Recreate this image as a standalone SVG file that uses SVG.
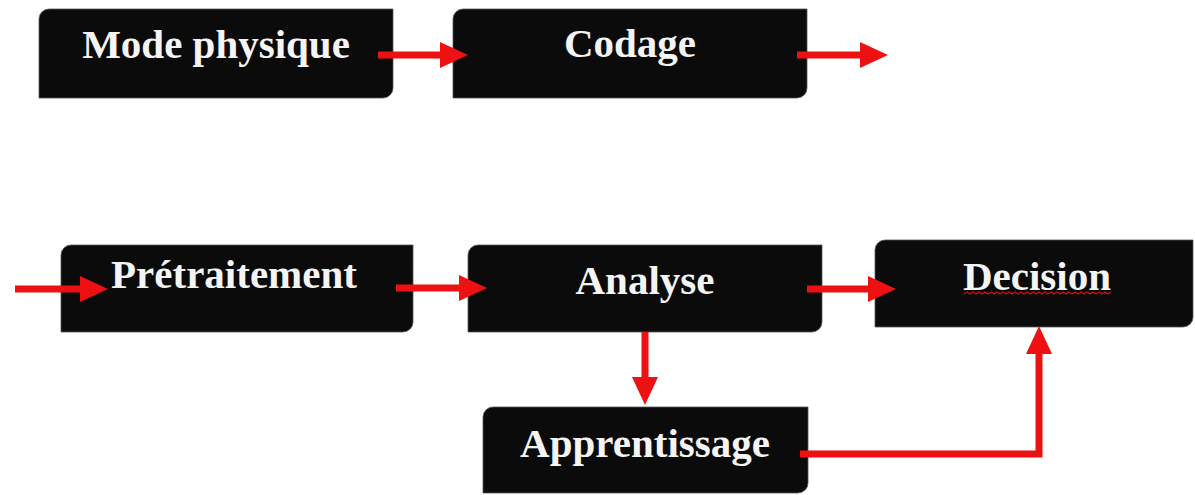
<svg xmlns="http://www.w3.org/2000/svg" width="1195" height="495" viewBox="0 0 1195 495">
<style>
.box{fill:#0b0b0b;stroke:#555;stroke-width:0.8}
.lbl{font-family:"Liberation Serif","Times New Roman",serif;font-weight:bold;font-size:41px;fill:#f4f4f4;text-anchor:middle}
.conn{fill:none;stroke:#ee1111;stroke-width:7;stroke-linejoin:miter}
</style>
<defs>
<marker id="ah" markerUnits="userSpaceOnUse" markerWidth="30" markerHeight="28" refX="8" refY="13" orient="auto" overflow="visible">
<path d="M0,0 L28,13 L0,26 Z" fill="#ee1111"/>
</marker>
</defs>
<rect width="1195" height="495" fill="#ffffff"/>
<g id="mode-physique">
<path class="box" d="M49,9 H393 V88 A10,10 0 0 1 383,98 H39 V19 A10,10 0 0 1 49,9 Z"/>
<text class="lbl" x="216" y="58">Mode physique</text>
</g>
<g id="codage">
<path class="box" d="M463,9 H807 V88 A10,10 0 0 1 797,98 H453 V19 A10,10 0 0 1 463,9 Z"/>
<text class="lbl" x="630" y="57">Codage</text>
</g>
<g id="pretraitement">
<path class="box" d="M71,245 H413 V322 A10,10 0 0 1 403,332 H61 V255 A10,10 0 0 1 71,245 Z"/>
<text class="lbl" x="234" y="288">Prétraitement</text>
</g>
<g id="analyse">
<path class="box" d="M478,245 H822 V322 A10,10 0 0 1 812,332 H468 V255 A10,10 0 0 1 478,245 Z"/>
<text class="lbl" x="645" y="294">Analyse</text>
</g>
<g id="decision">
<path class="box" d="M885,240 H1193 V317 A10,10 0 0 1 1183,327 H875 V250 A10,10 0 0 1 885,240 Z"/>
<text class="lbl" x="1037" y="290">Decision</text>
<path d="M964,294 l3,-2 l3,2 l3,-2 l3,2 l3,-2 l3,2 l3,-2 l3,2 l3,-2 l3,2 l3,-2 l3,2 l3,-2 l3,2 l3,-2 l3,2 l3,-2 l3,2 l3,-2 l3,2 l3,-2 l3,2 l3,-2 l3,2 l3,-2 l3,2 l3,-2 l3,2 l3,-2 l3,2 l3,-2 l3,2 l3,-2 l3,2 l3,-2 l3,2 l3,-2 l3,2 l3,-2 l3,2 l3,-2 l3,2 l3,-2 l3,2 l3,-2 l3,2 l3,-2 l3,2 l3,-2" fill="none" stroke="#cc1111" stroke-width="1.2"/>
</g>
<g id="apprentissage">
<path class="box" d="M493,407 H808 V483 A10,10 0 0 1 798,493 H483 V417 A10,10 0 0 1 493,407 Z"/>
<text class="lbl" x="645" y="457">Apprentissage</text>
</g>
<g id="connectors">
<path class="conn" d="M378,55 H448" marker-end="url(#ah)"/>
<path class="conn" d="M797,55 H868" marker-end="url(#ah)"/>
<path class="conn" d="M15,289 H88" marker-end="url(#ah)"/>
<path class="conn" d="M396,288 H467" marker-end="url(#ah)"/>
<path class="conn" d="M807,289 H876" marker-end="url(#ah)"/>
<path class="conn" d="M645,332 V385" marker-end="url(#ah)"/>
<path class="conn" d="M800,454 H1039 V346" marker-end="url(#ah)"/>
</g>
</svg>
